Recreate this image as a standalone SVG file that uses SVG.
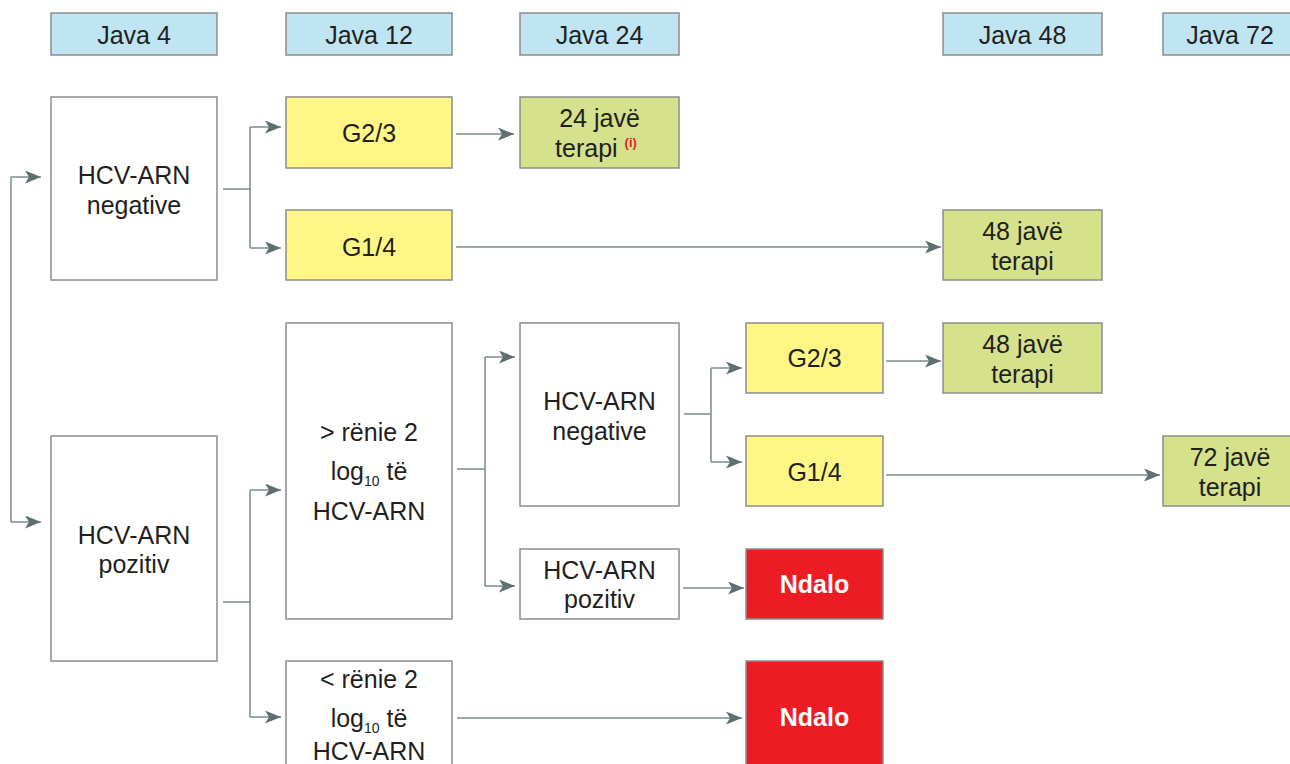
<svg xmlns="http://www.w3.org/2000/svg" width="1290" height="764" viewBox="0 0 1290 764">
<style>
text{font-family:"Liberation Sans",Arial,sans-serif;font-size:25px;fill:#231f20;text-anchor:middle}
.hdr{fill:#bfe4f2;stroke:#8c8c8c;stroke-width:1.5}
.w{fill:#ffffff;stroke:#8c8c8c;stroke-width:1.5}
.y{fill:#fff685;stroke:#8c8c8c;stroke-width:1.5}
.g{fill:#d5e18b;stroke:#8c8c8c;stroke-width:1.5}
.r{fill:#ed1c24;stroke:#8c8c8c;stroke-width:1.5}
.nd{fill:#ffffff;font-weight:bold}
.sub{font-size:14px}
.sup{font-size:13px;font-weight:bold;fill:#e8202a}
.c{fill:none;stroke:#7a8a8c;stroke-width:1.5}
.ca{fill:none;stroke:#7a8a8c;stroke-width:1.5;marker-end:url(#ah)}
</style>
<defs>
<marker id="ah" markerUnits="userSpaceOnUse" markerWidth="17" markerHeight="13" refX="16" refY="6.5" orient="auto">
<path d="M0,0 L16,6.5 L0,13 L4,6.5 z" fill="#5f6e70"/>
</marker>
</defs>
<g id="headers">
<g id="h4"><rect class="hdr" x="51" y="13" width="166" height="42"/><text x="134" y="44">Java 4</text></g>
<g id="h12"><rect class="hdr" x="286" y="13" width="166" height="42"/><text x="369" y="44">Java 12</text></g>
<g id="h24"><rect class="hdr" x="520" y="13" width="159" height="42"/><text x="599.5" y="44">Java 24</text></g>
<g id="h48"><rect class="hdr" x="943" y="13" width="159" height="42"/><text x="1022.5" y="44">Java 48</text></g>
<g id="h72"><rect class="hdr" x="1163" y="13" width="140" height="42"/><text x="1230" y="44">Java 72</text></g>
</g>
<g id="n_neg4"><rect class="w" x="51" y="97" width="166" height="183"/><text x="134" y="184">HCV-ARN</text><text x="134" y="214">negative</text></g>
<g id="n_poz4"><rect class="w" x="51" y="436" width="166" height="225"/><text x="134" y="544">HCV-ARN</text><text x="134" y="573">pozitiv</text></g>
<g id="n_g23a"><rect class="y" x="286" y="97" width="166" height="71"/><text x="369" y="142">G2/3</text></g>
<g id="n_g14a"><rect class="y" x="286" y="210" width="166" height="70"/><text x="369" y="256">G1/4</text></g>
<g id="n_24t"><rect class="g" x="520" y="97" width="159" height="71"/><text x="599.5" y="127">24 javë</text><text x="596" y="157">terapi <tspan class="sup" dy="-10">(i)</tspan></text></g>
<g id="n_48ta"><rect class="g" x="943" y="210" width="159" height="70"/><text x="1022.5" y="240">48 javë</text><text x="1022.5" y="270">terapi</text></g>
<g id="n_gt2"><rect class="w" x="286" y="323" width="166" height="296"/><text x="369" y="441">&gt; rënie 2</text><text x="369" y="480">log<tspan class="sub" dy="6">10</tspan><tspan dy="-6"> të</tspan></text><text x="369" y="520">HCV-ARN</text></g>
<g id="n_lt2"><rect class="w" x="286" y="661" width="166" height="120"/><text x="369" y="688">&lt; rënie 2</text><text x="369" y="727">log<tspan class="sub" dy="6">10</tspan><tspan dy="-6"> të</tspan></text><text x="369" y="760">HCV-ARN</text></g>
<g id="n_neg24"><rect class="w" x="520" y="323" width="159" height="183"/><text x="599.5" y="410">HCV-ARN</text><text x="599.5" y="440">negative</text></g>
<g id="n_poz24"><rect class="w" x="520" y="549" width="159" height="70"/><text x="599.5" y="579">HCV-ARN</text><text x="599.5" y="608">pozitiv</text></g>
<g id="n_g23b"><rect class="y" x="746" y="323" width="137" height="70"/><text x="814.5" y="367">G2/3</text></g>
<g id="n_g14b"><rect class="y" x="746" y="436" width="137" height="70"/><text x="814.5" y="481">G1/4</text></g>
<g id="n_48tb"><rect class="g" x="943" y="323" width="159" height="70"/><text x="1022.5" y="353">48 javë</text><text x="1022.5" y="383">terapi</text></g>
<g id="n_72t"><rect class="g" x="1163" y="436" width="140" height="70"/><text x="1230" y="466">72 javë</text><text x="1230" y="496">terapi</text></g>
<g id="n_stop1"><rect class="r" x="746" y="549" width="137" height="70"/><text class="nd" x="814.5" y="593">Ndalo</text></g>
<g id="n_stop2"><rect class="r" x="746" y="661" width="137" height="120"/><text class="nd" x="814.5" y="726">Ndalo</text></g>
<g id="connectors">
<path class="c" d="M11,177 V522"/>
<path class="ca" d="M11,177 H41"/>
<path class="ca" d="M11,522 H41"/>
<path class="c" d="M223,189 H250 M250,127 V248"/>
<path class="ca" d="M250,127 H281"/>
<path class="ca" d="M250,248 H281"/>
<path class="ca" d="M456,134 H514"/>
<path class="ca" d="M456,247 H941"/>
<path class="c" d="M223,602 H250 M250,490 V717"/>
<path class="ca" d="M250,490 H281"/>
<path class="ca" d="M250,717 H281"/>
<path class="c" d="M457,469 H485 M485,357 V586"/>
<path class="ca" d="M485,357 H515"/>
<path class="ca" d="M485,586 H515"/>
<path class="c" d="M684,414 H711 M711,368 V462"/>
<path class="ca" d="M711,368 H742"/>
<path class="ca" d="M711,462 H742"/>
<path class="ca" d="M886,361 H941"/>
<path class="ca" d="M886,475 H1160"/>
<path class="ca" d="M683,588 H744"/>
<path class="ca" d="M457,718 H742"/>
</g>
</svg>
